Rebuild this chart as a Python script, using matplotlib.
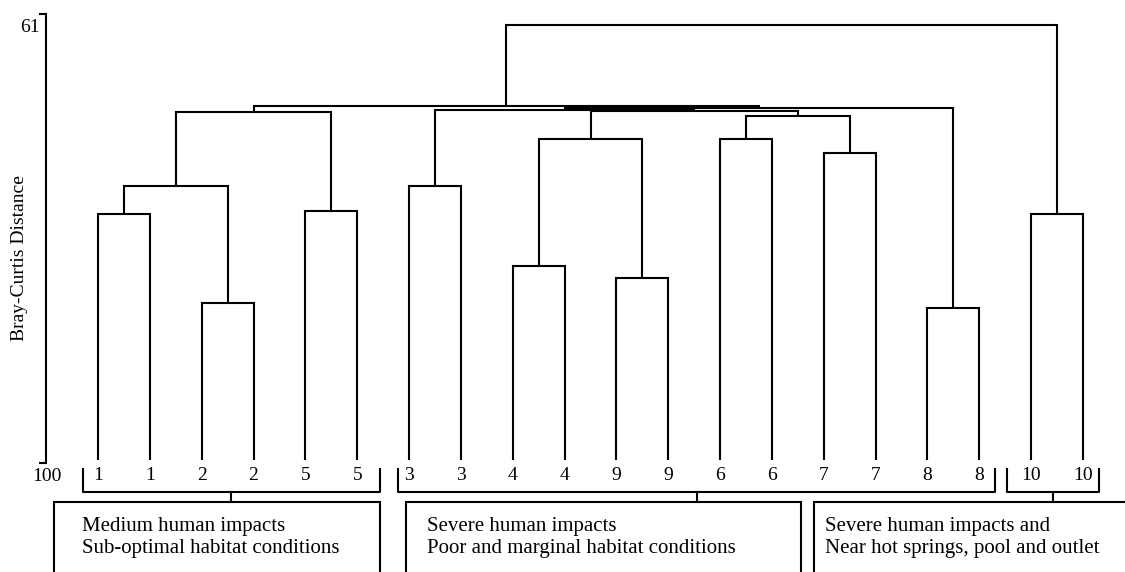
import matplotlib
matplotlib.use("Agg")
import matplotlib.pyplot as plt
from matplotlib.patches import Rectangle
from matplotlib.transforms import blended_transform_factory, offset_copy

# ---------------- data ----------------
leaf_labels = ["1", "1", "2", "2", "5", "5", "3", "3", "4", "4",
               "9", "9", "6", "6", "7", "7", "8", "8", "10", "10"]

# merges: (left child, right child, Bray-Curtis distance)
# children: "L<i>" = leaf index i, "M<j>" = merge j
merge_left = ["L0", "L2", "L4", "L6", "L8", "L10", "L12", "L14", "L16", "L18",
              "M0", "M10", "M4", "M6", "M12", "M3", "M15", "M11", "M17"]
merge_right = ["L1", "L3", "L5", "L7", "L9", "L11", "L13", "L15", "L17", "L19",
               "M1", "M2", "M5", "M7", "M13", "M14", "M8", "M16", "M9"]
merge_height = [78.4, 86.1, 78.1, 75.9, 82.9, 83.9, 71.9, 73.1, 86.5, 78.4,
                75.9, 69.47, 71.9, 69.86, 69.43, 69.30, 69.16, 68.99, 61.96]

axis_ticks = [61, 100]
axis_label = "Bray-Curtis Distance"

group_first = [0, 6, 18]
group_last = [5, 17, 19]
group_text = ["Medium human impacts\nSub-optimal habitat conditions",
              "Severe human impacts\nPoor and marginal habitat conditions",
              "Severe human impacts and\nNear hot springs, pool and outlet"]

# ---------------- style ----------------
W, H = 1125, 572
SERIF = ["Liberation Serif", "DejaVu Serif"]
plt.rcParams["font.family"] = SERIF
LW = 1.5
leaf_base = 99.7

fig = plt.figure(figsize=(W / 100, H / 100), dpi=100)

ax_left_px, ax_top_px, ax_bot_px = 46, 14, 463
leaf0_px, leafN_px = 98, 1083
n = len(leaf_labels)
step = (leafN_px - leaf0_px) / (n - 1)
ax = fig.add_axes([ax_left_px / W, 1 - ax_bot_px / H,
                   1 - ax_left_px / W, (ax_bot_px - ax_top_px) / H])
ax.set_xlim(-(leaf0_px - ax_left_px) / step, (n - 1) + (W - leafN_px) / step)
ax.set_ylim(100, 61)

for s in ["top", "right", "bottom"]:
    ax.spines[s].set_visible(False)
ax.spines["left"].set_linewidth(LW)
ax.set_xticks([])
ax.set_yticks(axis_ticks)
ax.set_yticklabels([])
ax.tick_params(axis="y", direction="out", length=5, width=LW)

# tick labels sit just below their ticks, as in the reference
ytrans = blended_transform_factory(fig.transFigure, ax.transData)
ytrans = offset_copy(ytrans, fig=fig, x=0, y=-5, units="dots")
for t, xr in zip(axis_ticks, [40 / W, 62 / W]):
    ax.text(xr, t, str(t), transform=ytrans, ha="right", va="top",
            fontsize=14, clip_on=False)

fig.text(20 / W, 1 - 258 / H, axis_label, rotation=90, ha="center",
         va="center", fontsize=14)

# ---------------- dendrogram ----------------
pos = {}
hgt = {}
for i in range(n):
    pos[f"L{i}"] = i
    hgt[f"L{i}"] = leaf_base

for j, (l, r, h) in enumerate(zip(merge_left, merge_right, merge_height)):
    xl, xr = pos[l], pos[r]
    ax.plot([xl, xl, xr, xr], [hgt[l], h, h, hgt[r]], color="black", lw=LW,
            solid_joinstyle="miter", solid_capstyle="butt", clip_on=False)
    pos[f"M{j}"] = (xl + xr) / 2
    hgt[f"M{j}"] = h

lab_trans = blended_transform_factory(ax.transData, fig.transFigure)
for i, lab in enumerate(leaf_labels):
    ax.text(i, 1 - 475 / H, lab, transform=lab_trans, ha="center",
            va="center", fontsize=14, clip_on=False)

# ---------------- groups: brackets + boxes ----------------
pad_l = [-0.29, -0.21, -0.46]
pad_r = [0.44, 0.31, 0.31]
box_l_px = [54, 406, 814]
box_r_px = [380, 801, 1135]
text_l_px = [82, 427, 825]
br_top, br_bot, box_top = 469, 492, 502


def px2fig(x, y):
    return x / W, 1 - y / H


for g in range(len(group_first)):
    xa = ax.transData.transform((group_first[g] + pad_l[g], 100))[0]
    xb = ax.transData.transform((group_last[g] + pad_r[g], 100))[0]
    xc = (xa + xb) / 2
    xs = [xa, xa, xb, xb]
    ys = [br_top, br_bot, br_bot, br_top]
    fig.lines.append(plt.Line2D([x / W for x in xs], [1 - y / H for y in ys],
                                color="black", lw=LW, transform=fig.transFigure))
    fig.lines.append(plt.Line2D([xc / W, xc / W], [1 - br_bot / H, 1 - box_top / H],
                                color="black", lw=LW, transform=fig.transFigure))
    x0, y0 = px2fig(box_l_px[g], 600)
    rect = Rectangle((x0, y0), (box_r_px[g] - box_l_px[g]) / W, (600 - box_top) / H,
                     transform=fig.transFigure, fill=False, ec="black", lw=LW)
    fig.patches.append(rect)
    tx, ty = px2fig(text_l_px[g], 517)
    fig.text(tx, ty, group_text[g], ha="left", va="top", fontsize=15,
             linespacing=1.25)

fig.savefig("out.png", dpi=100)
